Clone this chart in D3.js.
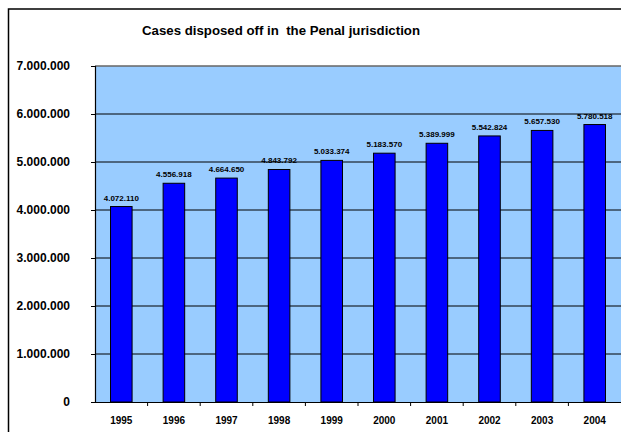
<!DOCTYPE html>
<html>
<head>
<meta charset="utf-8">
<style>
  body { margin: 0; background: #fff; overflow: hidden; }
  text { font-family: "Liberation Sans", Arial, sans-serif; font-weight: bold; fill: #000; }
</style>
</head>
<body>
<svg width="621" height="432"></svg>
<script src="https://cdnjs.cloudflare.com/ajax/libs/d3/7.8.5/d3.min.js"></script>
<script>

var years = ["1995", "1996", "1997", "1998", "1999", "2000", "2001", "2002", "2003", "2004"];
var cases = [4072110, 4556918, 4664650, 4843792, 5033374, 5183570, 5389999, 5542824, 5657530, 5780518];
var yTicks = [0, 1000000, 2000000, 3000000, 4000000, 5000000, 6000000, 7000000];
var title = "Cases disposed off in  the Penal jurisdiction";

var svg = d3.select("svg"),
    margin = {top: 66, right: 0, bottom: 30, left: 95},
    width = 621 - margin.left - margin.right,
    height = 402 - margin.top;

var fmt = function(d) { return d3.format(",")(d).replace(/,/g, "."); };

// outer chart frame
svg.append("rect")
    .attr("x", 8.5).attr("y", 9)
    .attr("width", 640).attr("height", 440)
    .attr("fill", "#fff")
    .attr("stroke", "#000")
    .attr("stroke-width", 1.5);

svg.append("text")
    .attr("x", 142).attr("y", 35)
    .attr("textLength", 278)
    .attr("lengthAdjust", "spacingAndGlyphs")
    .style("font-size", "12.5px")
    .style("white-space", "pre")
    .text(title);

var g = svg.append("g").attr("transform", "translate(" + margin.left + "," + margin.top + ")");

var x = d3.scaleBand()
    .domain(years)
    .range([0, width])
    .paddingInner(0.59)
    .paddingOuter(0.295);

var xt = d3.scaleBand().domain(years).range([0, width]);

var y = d3.scaleLinear()
    .domain([0, 7000000])
    .range([height, 0]);

g.append("rect")
    .attr("width", width + 20).attr("height", height)
    .attr("fill", "#99ccff");

// grid lines
g.selectAll(".grid")
    .data(yTicks.slice(1))
  .enter().append("line")
    .attr("x1", 0).attr("x2", width + 20)
    .attr("y1", function(d) { return y(d); })
    .attr("y2", function(d) { return y(d); })
    .attr("stroke", function(d) { return d === 7000000 ? "#666" : "#000"; })
    .attr("stroke-width", function(d) { return d === 7000000 ? 1.5 : 1; });

g.selectAll(".bar")
    .data(cases)
  .enter().append("rect")
    .attr("x", function(d, i) { return x(years[i]); })
    .attr("y", function(d) { return y(d); })
    .attr("width", x.bandwidth())
    .attr("height", function(d) { return height - y(d); })
    .attr("fill", "#0000ff")
    .attr("stroke", "#000")
    .attr("stroke-width", 1);

g.selectAll(".val")
    .data(cases)
  .enter().append("text")
    .attr("x", function(d, i) { return x(years[i]) + x.bandwidth() / 2; })
    .attr("y", function(d) { return y(d) - 6; })
    .attr("text-anchor", "middle")
    .style("font-size", "8px")
    .text(fmt);

// y axis
var yAxis = g.append("g")
    .call(d3.axisLeft(y).tickValues(yTicks).tickSize(4).tickPadding(21).tickFormat(fmt));
yAxis.select(".domain").attr("stroke", "#000").attr("stroke-width", 1.2);
yAxis.selectAll("text")
    .style("font-size", "12px")
    .attr("fill", "#000");

// x axis
var xAxis = g.append("g")
    .attr("transform", "translate(0," + height + ")")
    .call(d3.axisBottom(xt).tickSize(0).tickPadding(15).tickSizeOuter(0));
xAxis.select(".domain").attr("stroke", "#000");
xAxis.selectAll("text")
    .style("font-size", "10px")
    .attr("fill", "#000");

// category separators on x axis
g.selectAll(".xtick")
    .data(years.slice(1))
  .enter().append("line")
    .attr("x1", function(d) { return xt(d); })
    .attr("x2", function(d) { return xt(d); })
    .attr("y1", height).attr("y2", height + 4)
    .attr("stroke", "#000");

</script>
</body>
</html>
